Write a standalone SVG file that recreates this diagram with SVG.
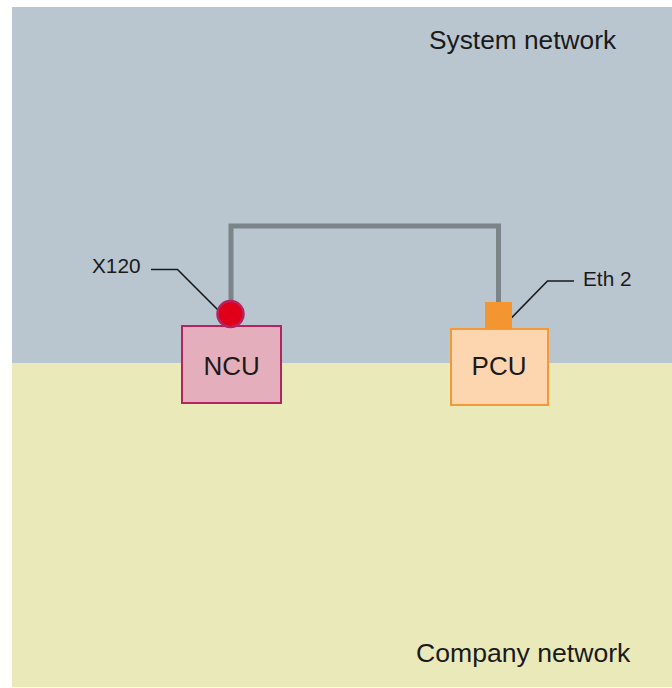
<svg xmlns="http://www.w3.org/2000/svg" width="672" height="688" viewBox="0 0 672 688">
<style>
text { font-family: "Liberation Sans", Arial, sans-serif; fill: #1a1a1a; }
.zone { font-size: 26.3px; }
.box { font-size: 26px; text-anchor: middle; }
.lbl { font-size: 20.8px; }
.leader { fill: none; stroke: #1a1a1a; stroke-width: 1.6; }
.cable { fill: none; stroke: #7a8489; stroke-width: 5; }
</style>
<rect width="672" height="688" fill="#ffffff"/>
<g id="system-network">
<rect x="12" y="7" width="660" height="356" fill="#b9c6d0"/>
<text class="zone" x="429" y="48.5">System network</text>
</g>
<g id="company-network">
<rect x="12" y="363" width="660" height="324" fill="#eae9ba"/>
<text class="zone" x="416" y="662" style="font-size:26.6px">Company network</text>
</g>
<g id="connectors">
<polyline class="cable" points="231,302 231,226 498.5,226 498.5,302"/>
<polyline class="leader" points="151,269.5 177.5,269.5 217.5,309.5"/>
<polyline class="leader" points="574,281 547.5,281 507.5,322"/>
</g>
<g id="ncu">
<rect x="182" y="326" width="99" height="77" fill="#e5aebd" stroke="#b5245f" stroke-width="2"/>
<text class="box" x="231.6" y="375">NCU</text>
</g>
<g id="x120">
<circle cx="230.5" cy="314" r="13" fill="#e0001a" stroke="#b5245f" stroke-width="2.5"/>
<text class="lbl" x="92" y="273">X120</text>
</g>
<g id="pcu">
<rect x="451" y="329" width="97" height="76" fill="#fdd5ae" stroke="#f39a36" stroke-width="2"/>
<text class="box" x="499" y="375">PCU</text>
</g>
<g id="eth2">
<rect x="485" y="302" width="27" height="27" fill="#f39530"/>
<text class="lbl" x="583" y="285.5">Eth 2</text>
</g>
</svg>
